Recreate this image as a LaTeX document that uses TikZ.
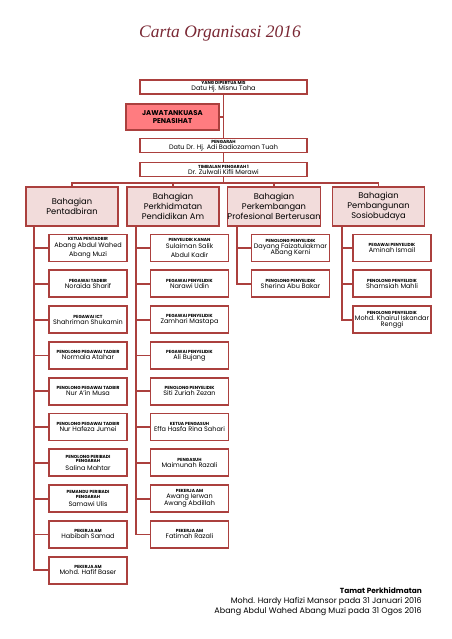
\documentclass[tikz,border=0pt]{standalone}
\usepackage{fontspec}
\setmainfont{Poppins}
\newfontfamily\tajukfont{Liberation Serif}
\usetikzlibrary{positioning}
\definecolor{merah}{RGB}{171,64,62}
\definecolor{merahmuda}{RGB}{242,220,219}
\definecolor{salmon}{RGB}{255,124,128}
\definecolor{tajukmerah}{RGB}{122,40,52}
\newcommand{\kecil}{\fontsize{4.4}{5}\selectfont\bfseries}
\newcommand{\jwt}[2]{\kecil #1\\[-1.6pt]#2}

\begin{document}
\begin{tikzpicture}[x=1pt,y=-1pt,
  kotak/.style={draw=merah, line width=1.8pt, fill=white, inner sep=0pt, align=center,
    font=\fontsize{6.5}{7.6}\selectfont},
  atas/.style={kotak, minimum width=167pt, minimum height=14pt},
  bahagian/.style={kotak, fill=merahmuda, minimum width=92pt, minimum height=39pt,
    font=\fontsize{8.3}{9.8}\selectfont},
  jawatan/.style={kotak, minimum width=78pt, minimum height=27pt},
  garis/.style={draw=merah, line width=1.8pt}]
  \useasboundingbox (0,0) rectangle (451,639);

  % tajuk
  \node[font=\tajukfont\itshape\fontsize{17.5}{20}\selectfont, text=tajukmerah] (tajuk) at (220,34) {Carta Organisasi 2016};

  % pengurusan atasan
  \node[atas] (ydp) at (223.5,87) {\jwt{YANG DIPERTUA MIS}{Datu Hj. Misnu Taha}};
  \node[kotak, fill=salmon, minimum width=93pt, minimum height=26pt,
    font=\fontsize{7}{8}\selectfont\bfseries] (jk) at (172.5,117) {JAWATANKUASA\\PENASIHAT};
  \node[atas] (pg) at (223.5,145.5) {\jwt{PENGARAH}{Datu Dr. Hj. Adi Badiozaman Tuah}};
  \node[atas] (tp) at (223.5,169.5) {\jwt{TIMBALAN PENGARAH 1}{Dr. Zulwali Kifli Merawi}};

  % bahagian
  \node[bahagian] (hA) at (72,206.5) {Bahagian\\Pentadbiran};
  \node[bahagian] (hB) at (173,206.5) {Bahagian\\Perkhidmatan\\Pendidikan Am};
  \node[bahagian] (hC) at (274,206.5) {Bahagian\\Perkembangan\\Profesional Berterusan};
  \node[bahagian] (hD) at (378.5,206.5) {Bahagian\\Pembangunan\\Sosiobudaya};

  % Pentadbiran
  \node[jawatan] (a1) at (88,248) {\kecil KETUA PENTADBIR\\[-0.6pt]Abang Abdul Wahed\\[1.2pt]Abang Muzi};
  \node[jawatan] (a2) at (88,283.8) {\jwt{PEGAWAI TADBIR}{Noraida Sharif}};
  \node[jawatan] (a3) at (88,319.6) {\jwt{PEGAWAI ICT}{Shahriman Shukarnin}};
  \node[jawatan] (a4) at (88,355.4) {\jwt{PENOLONG PEGAWAI TADBIR}{Normala Atahar}};
  \node[jawatan] (a5) at (88,391.2) {\jwt{PENOLONG PEGAWAI TADBIR}{Nur A'in Musa}};
  \node[jawatan] (a6) at (88,427) {\jwt{PENOLONG PEGAWAI TADBIR}{Nur Hafeza Jumei}};
  \node[jawatan] (a7) at (88,462.8) {\kecil PENOLONG PERIBADI\\[-3pt]\kecil PENGARAH\\[0.4pt]Salina Mahtar};
  \node[jawatan] (a8) at (88,498.6) {\kecil PEMANDU PERIBADI\\[-3pt]\kecil PENGARAH\\[0.4pt]Samawi Ulis};
  \node[jawatan] (a9) at (88,534.4) {\jwt{PEKERJA AM}{Habibah Samad}};
  \node[jawatan] (a10) at (88,570.2) {\jwt{PEKERJA AM}{Mohd. Hafif Baser}};

  % Perkhidmatan Pendidikan Am
  \node[jawatan] (b1) at (189.5,248) {\kecil PENYELIDIK KANAN\\[-0.6pt]Sulaiman Salik\\[1.2pt]Abdul Kadir};
  \node[jawatan] (b2) at (189.5,283.8) {\jwt{PEGAWAI PENYELIDIK}{Narawi Udin}};
  \node[jawatan] (b3) at (189.5,319.6) {\jwt{PEGAWAI PENYELIDIK}{Zamhari Mastapa}};
  \node[jawatan] (b4) at (189.5,355.4) {\jwt{PEGAWAI PENYELIDIK}{Ali Bujang}};
  \node[jawatan] (b5) at (189.5,391.2) {\jwt{PENOLONG PENYELIDIK}{Siti Zuriah Zezan}};
  \node[jawatan] (b6) at (189.5,427) {\jwt{KETUA PENGASUH}{Effa Hasfa Rina Sahari}};
  \node[jawatan] (b7) at (189.5,462.8) {\jwt{PENGASUH}{Maimunah Razali}};
  \node[jawatan] (b8) at (189.5,498.6) {\kecil PEKERJA AM\\[-1.6pt]Awang Ierwan\\[-1pt]Awang Abdillah};
  \node[jawatan] (b9) at (189.5,534.4) {\jwt{PEKERJA AM}{Fatimah Razali}};

  % Perkembangan Profesional Berterusan
  \node[jawatan] (c1) at (290.5,248) {\kecil PENOLONG PENYELIDIK\\[-1.6pt]Dayang Faizatulakmar\\[-1.6pt]Abang Kerni};
  \node[jawatan] (c2) at (290.5,283.8) {\jwt{PENOLONG PENYELIDIK}{Sherina Abu Bakar}};

  % Pembangunan Sosiobudaya
  \node[jawatan] (d1) at (392,248) {\jwt{PEGAWAI PENYELIDIK}{Aminah Ismail}};
  \node[jawatan] (d2) at (392,283.8) {\jwt{PENOLONG PENYELIDIK}{Shamsiah Mahli}};
  \node[jawatan] (d3) at (392,319.6) {\kecil PENOLONG PENYELIDIK\\[-1.6pt]Mohd. Khairul Iskandar\\[-1.6pt]Renggi};

  % penghubung
  \draw[garis] (ydp.south) -- (pg.north) (pg.south) -- (tp.north);
  \draw[garis] (jk.east) -- (jk.east -| ydp.south);
  \coordinate (bas) at (223.5,183);
  \draw[garis] (tp.south) -- (bas);
  \draw[garis] (hA.north) |- (bas) -| (hD.north);
  \draw[garis] (hB.north) -- (hB.north |- bas) (hC.north) -- (hC.north |- bas);

  \coordinate (tA) at (34,226);
  \coordinate (tB) at (136,226);
  \coordinate (tC) at (237,226);
  \coordinate (tD) at (342,226);
  \draw[garis] (tA) |- (a1.west) (tA) |- (a2.west) (tA) |- (a3.west) (tA) |- (a4.west)
    (tA) |- (a5.west) (tA) |- (a6.west) (tA) |- (a7.west) (tA) |- (a8.west)
    (tA) |- (a9.west) (tA) |- (a10.west);
  \draw[garis] (tB) |- (b1.west) (tB) |- (b2.west) (tB) |- (b3.west) (tB) |- (b4.west)
    (tB) |- (b5.west) (tB) |- (b6.west) (tB) |- (b7.west) (tB) |- (b8.west)
    (tB) |- (b9.west);
  \draw[garis] (tC) |- (c1.west) (tC) |- (c2.west);
  \draw[garis] (tD) |- (d1.west) (tD) |- (d2.west) (tD) |- (d3.west);

  % tamat perkhidmatan
  \node[anchor=north east, align=right, inner sep=0pt, font=\fontsize{8}{10}\selectfont] (tamat) at (422,587)
    {\fontsize{7.4}{10}\selectfont\bfseries Tamat Perkhidmatan\\Mohd. Hardy Hafizi Mansor pada 31 Januari 2016\\Abang Abdul Wahed Abang Muzi pada 31 Ogos 2016};
\end{tikzpicture}
\end{document}
